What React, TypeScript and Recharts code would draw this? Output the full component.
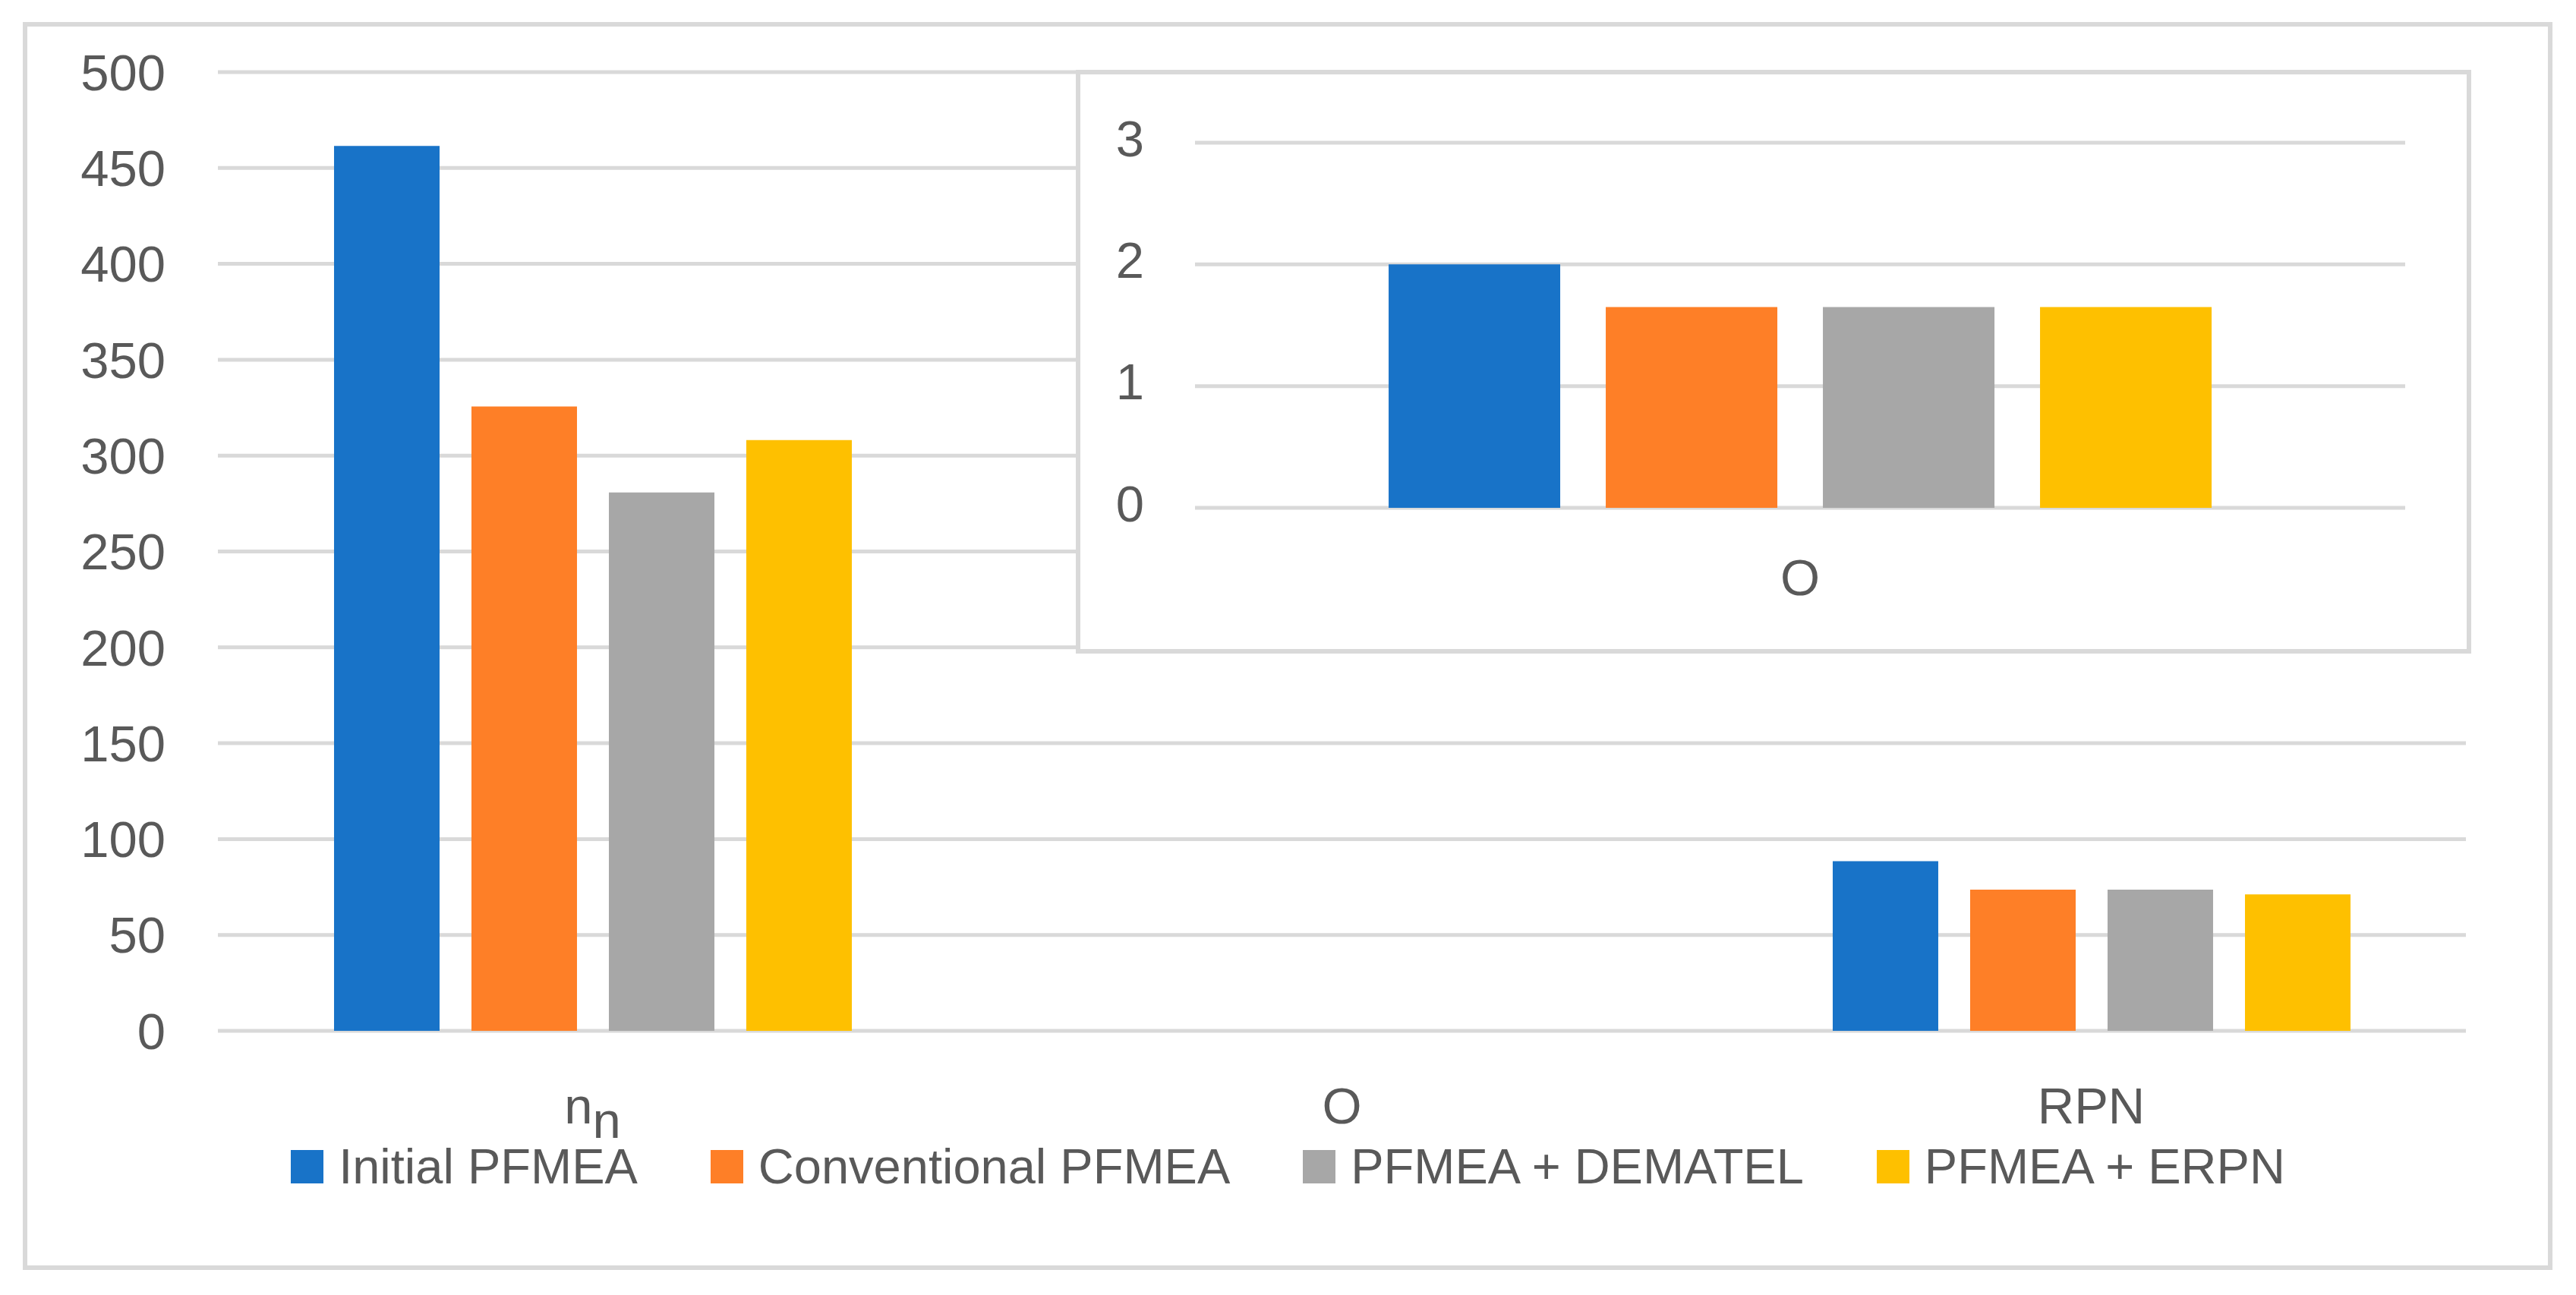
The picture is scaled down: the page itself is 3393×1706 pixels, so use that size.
import React from 'react';
import { BarChart, Bar, XAxis, YAxis, CartesianGrid, Legend } from 'recharts';

const FONT = '"Liberation Sans", Arial, sans-serif';
const TEXT = '#595959';
const GRID = '#d9d9d9';

// main chart
const categories = ['n_n', 'O', 'RPN'];
const initialPfmea = [461.5, null, 88.5];
const conventionalPfmea = [325.6, null, 73.6];
const dematelPfmea = [280.8, null, 73.6];
const erpnPfmea = [308.1, null, 71.2];
const mainTicks = [0, 50, 100, 150, 200, 250, 300, 350, 400, 450, 500];

// inset (O only)
const insetCategories = ['O'];
const insetInitial = [2.0];
const insetConventional = [1.65];
const insetDematel = [1.65];
const insetErpn = [1.65];
const insetTicks = [0, 1, 2, 3];

const seriesNames = ['Initial PFMEA', 'Conventional PFMEA', 'PFMEA + DEMATEL', 'PFMEA + ERPN'];
const seriesKeys = ['initial', 'conventional', 'dematel', 'erpn'];
const seriesColors = ['#1873c8', '#fe7f27', '#a7a7a7', '#fec000'];

const mainData = categories.map((c, i) => ({
  category: c,
  initial: initialPfmea[i],
  conventional: conventionalPfmea[i],
  dematel: dematelPfmea[i],
  erpn: erpnPfmea[i],
}));

const insetData = insetCategories.map((c, i) => ({
  category: c,
  initial: insetInitial[i],
  conventional: insetConventional[i],
  dematel: insetDematel[i],
  erpn: insetErpn[i],
}));

function CategoryTick(props: any) {
  const { x, y, payload, dy = 122 } = props;
  const common = { textAnchor: 'middle' as const, fill: TEXT, fontSize: 67, fontFamily: FONT };
  if (payload.value === 'n_n') {
    return (
      <text x={x} y={y + dy} {...common}>
        <tspan>n</tspan>
        <tspan dy={19}>n</tspan>
      </text>
    );
  }
  return (
    <text x={x} y={y + dy} {...common}>
      {payload.value}
    </text>
  );
}

function LegendContent(props: any) {
  const items = [...(props.payload || [])].sort(
    (a: any, b: any) => seriesNames.indexOf(a.value) - seriesNames.indexOf(b.value),
  );
  return (
    <div style={{ display: 'flex', justifyContent: 'center', alignItems: 'center', gap: 96, height: 67 }}>
      {items.map((entry: any) => (
        <div key={entry.value} style={{ display: 'flex', alignItems: 'center', gap: 20 }}>
          <span style={{ display: 'inline-block', width: 43, height: 44, background: entry.color }} />
          <span style={{ fontSize: 65, lineHeight: 1, color: TEXT, fontFamily: FONT, whiteSpace: 'nowrap' }}>
            {entry.value}
          </span>
        </div>
      ))}
    </div>
  );
}

export default function App() {
  return (
    <div
      style={{
        position: 'absolute',
        left: 0,
        top: 0,
        width: 3393,
        height: 1706,
        background: '#fff',
        fontFamily: FONT,
      }}
    >
      <div
        style={{
          position: 'absolute',
          left: 30,
          top: 29,
          width: 3332,
          height: 1644,
          border: `6px solid ${GRID}`,
          boxSizing: 'border-box',
        }}
      />
      <div style={{ position: 'absolute', left: 0, top: 0 }}>
        <BarChart
          width={3393}
          height={1706}
          data={mainData}
          margin={{ top: 95, right: 145, left: 87, bottom: 228 }}
          barCategoryGap="15.5%"
          barGap={42}
        >
          <CartesianGrid vertical={false} stroke={GRID} strokeWidth={5} />
          <XAxis
            dataKey="category"
            axisLine={false}
            tickLine={false}
            tickSize={0}
            tickMargin={0}
            height={120}
            interval={0}
            tick={<CategoryTick />}
          />
          <YAxis
            domain={[0, 500]}
            ticks={mainTicks}
            interval={0}
            axisLine={false}
            tickLine={false}
            tickSize={0}
            tickMargin={69}
            width={200}
            tick={{ fill: TEXT, fontSize: 67, fontFamily: FONT }}
          />
          <Legend
            layout="horizontal"
            verticalAlign="middle"
            align="center"
            wrapperStyle={{ top: 1503, left: 0, width: 3393, height: 67 }}
            content={<LegendContent />}
          />
          {seriesKeys.map((k, i) => (
            <Bar key={k} dataKey={k} name={seriesNames[i]} fill={seriesColors[i]} isAnimationActive={false} />
          ))}
        </BarChart>
      </div>
      <div
        style={{
          position: 'absolute',
          left: 1417,
          top: 92,
          width: 1838,
          height: 769,
          border: `6px solid ${GRID}`,
          boxSizing: 'border-box',
          background: '#fff',
        }}
      >
        <BarChart
          width={1826}
          height={757}
          data={insetData}
          margin={{ top: 90, right: 81, left: 31, bottom: 66 }}
          barCategoryGap="16%"
          barGap={60}
        >
          <CartesianGrid vertical={false} stroke={GRID} strokeWidth={5} />
          <XAxis
            dataKey="category"
            axisLine={false}
            tickLine={false}
            tickSize={0}
            tickMargin={0}
            height={120}
            interval={0}
            tick={<CategoryTick dy={115} />}
          />
          <YAxis
            domain={[0, 3]}
            ticks={insetTicks}
            interval={0}
            axisLine={false}
            tickLine={false}
            tickSize={0}
            tickMargin={67}
            width={120}
            tick={{ fill: TEXT, fontSize: 67, fontFamily: FONT, dy: -6 }}
          />
          {seriesKeys.map((k, i) => (
            <Bar key={k} dataKey={k} name={seriesNames[i]} fill={seriesColors[i]} isAnimationActive={false} />
          ))}
        </BarChart>
      </div>
    </div>
  );
}
